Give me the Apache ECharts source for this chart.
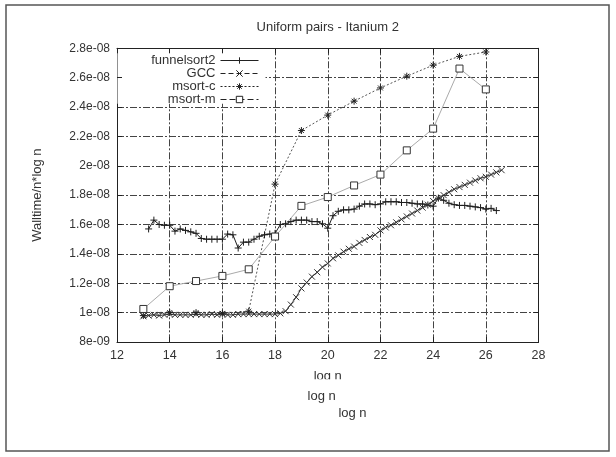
<!DOCTYPE html>
<html>
<head>
<meta charset="utf-8">
<script src="https://cdn.jsdelivr.net/npm/echarts@6/dist/echarts.min.js"></script>
<style>
html, body { margin: 0; padding: 0; background: #fff; }
#chart { width: 616px; height: 457px; }
</style>
</head>
<body>
<div id="chart"></div>
<script>
// values in units of 1e-09 (Walltime/n*log n)
const funnelX = [13.2, 13.4, 13.6, 13.8, 14.0, 14.2, 14.4, 14.6, 14.8, 15.0, 15.2, 15.4, 15.6, 15.8, 16.0, 16.2, 16.4, 16.6, 16.8, 17.0,
    17.2, 17.4, 17.6, 17.8, 18.0, 18.2, 18.4, 18.6, 18.8, 19.0, 19.2, 19.4, 19.6, 19.8, 20.0, 20.2, 20.4, 20.6, 20.8, 21.0,
    21.2, 21.4, 21.6, 21.8, 22.0, 22.2, 22.4, 22.6, 22.8, 23.0, 23.2, 23.4, 23.6, 23.8, 24.0, 24.2, 24.4, 24.6, 24.8, 25.0,
    25.2, 25.4, 25.6, 25.8, 26.0, 26.2, 26.4];
const funnelY = [15.7, 16.3, 16.0, 15.95, 15.95, 15.55, 15.7, 15.6, 15.5, 15.4, 15.05, 15.0, 15.0, 15.0, 15.0, 15.35, 15.3, 14.4, 14.8, 14.8,
    15.0, 15.2, 15.3, 15.35, 15.4, 16.0, 16.05, 16.2, 16.3, 16.3, 16.3, 16.2, 16.2, 16.05, 15.75, 16.6, 16.9, 17.0, 17.0, 17.05,
    17.25, 17.4, 17.4, 17.35, 17.4, 17.55, 17.55, 17.55, 17.5, 17.5, 17.45, 17.4, 17.4, 17.33, 17.25, 17.8, 17.65, 17.45, 17.35, 17.3,
    17.3, 17.25, 17.2, 17.15, 17.05, 17.1, 16.95];

const gccX = [13.0, 13.2, 13.4, 13.6, 13.8, 14.0, 14.2, 14.4, 14.6, 14.8, 15.0, 15.2, 15.4, 15.6, 15.8, 16.0, 16.2, 16.4, 16.6, 16.8,
    17.0, 17.2, 17.4, 17.6, 17.8, 18.0, 18.2, 18.4, 18.6, 18.8, 19.0, 19.2, 19.4, 19.6, 19.8, 20.0, 20.2, 20.4, 20.6, 20.8,
    21.0, 21.2, 21.4, 21.6, 21.8, 22.0, 22.2, 22.4, 22.6, 22.8, 23.0, 23.2, 23.4, 23.6, 23.8, 24.0, 24.2, 24.4, 24.6, 24.8,
    25.0, 25.2, 25.4, 25.6, 25.8, 26.0, 26.2, 26.4, 26.6];
const gccY = [9.75, 9.8, 9.85, 9.8, 9.85, 9.9, 9.85, 9.85, 9.85, 9.85, 9.9, 9.85, 9.85, 9.9, 9.85, 9.9, 9.85, 9.85, 9.9, 9.9,
    9.9, 9.9, 9.9, 9.9, 9.9, 9.9, 9.95, 10.1, 10.55, 11.05, 11.65, 12.05, 12.45, 12.75, 13.1, 13.35, 13.7, 13.9, 14.15, 14.35,
    14.5, 14.75, 14.95, 15.15, 15.3, 15.6, 15.8, 15.95, 16.15, 16.35, 16.55, 16.75, 16.95, 17.15, 17.35, 17.6, 17.8, 18.0, 18.2, 18.4,
    18.55, 18.7, 18.85, 19.0, 19.15, 19.25, 19.4, 19.55, 19.7];

const msortX = [13, 14, 15, 16, 17, 18, 19, 20, 21, 22, 23, 24, 25, 26];
const msortCY = [9.8, 10.0, 10.0, 9.95, 10.1, 18.75, 22.4, 23.45, 24.4, 25.3, 26.1, 26.85, 27.45, 27.75];
const msortMY = [10.25, 11.8, 12.15, 12.5, 12.95, 15.18, 17.27, 17.87, 18.66, 19.4, 21.05, 22.53, 26.62, 25.2];

const yTickLabels = ['8e-09', '1e-08', '1.2e-08', '1.4e-08', '1.6e-08', '1.8e-08', '2e-08', '2.2e-08', '2.4e-08', '2.6e-08', '2.8e-08'];
const legendRows = ['funnelsort2', 'GCC', 'msort-c', 'msort-m'];

const font = "'Liberation Sans', Arial, sans-serif";
const PLUS = 'path://M5,0L5,10M0,5L10,5';
const CROSS = 'path://M0,0L10,10M10,0L0,10';
const STAR = 'path://M5,0L5,10M0,5L10,5M1.5,1.5L8.5,8.5M8.5,1.5L1.5,8.5';
const BOX = 'path://M0,0L10,0L10,10L0,10Z';

const zip = (xs, ys) => xs.map((x, i) => [x, ys[i]]);
const gridDash = { color: '#444', width: 1, type: [7, 2, 2, 2] };

const keyMark = { color: 'transparent', borderColor: '#222', borderWidth: 1 };
const legendStyle = {
    'funnelsort2': { lineStyle: { color: '#222', width: 1, type: 'solid' }, itemStyle: keyMark },
    'GCC': { lineStyle: { color: '#222', width: 1, type: [5, 3] }, itemStyle: keyMark },
    'msort-c': { lineStyle: { color: '#222', width: 1, type: [2, 2] }, itemStyle: keyMark },
    'msort-m': { lineStyle: { color: '#222', width: 1, type: [6, 3] }, itemStyle: { color: '#fff', borderColor: '#222', borderWidth: 1 } }
};
const legendTops = [54, 67, 80, 93];

const chart = echarts.init(document.getElementById('chart'));
chart.setOption({
    animation: false,
    backgroundColor: '#fff',
    textStyle: { fontFamily: font, color: '#333' },
    title: {
        text: 'Uniform pairs - Itanium 2',
        left: 327.7,
        top: 21,
        padding: 0,
        textAlign: 'center',
        textStyle: { fontFamily: font, fontSize: 13, fontWeight: 'normal', color: '#333' }
    },
    grid: { left: 117, right: 77.5, top: 48.3, bottom: 115, containLabel: false },
    legend: legendRows.map((name, i) => ({
        data: [{ name, ...legendStyle[name] }],
        align: 'right',
        right: 357,
        top: legendTops[i],
        padding: 0,
        itemWidth: 38,
        itemHeight: 8,
        selectedMode: false,
        textStyle: { fontFamily: font, fontSize: 13, color: '#333' }
    })),
    xAxis: [
        {
            type: 'value', position: 'bottom', min: 12, max: 28, interval: 2, z: 0,
            name: 'log n', nameLocation: 'middle', nameGap: 28,
            nameTextStyle: { fontFamily: font, fontSize: 13, color: '#333' },
            axisLine: { onZero: false, lineStyle: { color: '#222', width: 1 } },
            axisTick: { inside: true, length: 5, lineStyle: { color: '#222' } },
            axisLabel: { fontFamily: font, fontSize: 12.5, color: '#333', margin: 7 },
            splitLine: { show: true, lineStyle: gridDash }
        },
        {
            type: 'value', position: 'top', min: 12, max: 28, interval: 2, z: 3,
            axisLine: { onZero: false, lineStyle: { color: '#222', width: 1 } },
            axisTick: { inside: true, length: 5, lineStyle: { color: '#222' } },
            axisLabel: { show: false },
            splitLine: { show: false }
        }
    ],
    yAxis: [
        {
            type: 'value', position: 'left', min: 8, max: 28, interval: 2, z: 0,
            name: 'Walltime/n*log n', nameLocation: 'middle', nameGap: 73,
            nameTextStyle: { fontFamily: font, fontSize: 13, color: '#333' },
            axisLine: { onZero: false, lineStyle: { color: '#222', width: 1 } },
            axisTick: { show: false },
            axisLabel: {
                fontFamily: font, fontSize: 12, color: '#333', margin: 7,
                formatter: (v, i) => yTickLabels[i]
            },
            splitLine: { show: true, lineStyle: gridDash }
        },
        {
            type: 'value', position: 'right', min: 8, max: 28, interval: 2, z: 3,
            axisLine: { onZero: false, lineStyle: { color: '#222', width: 1 } },
            axisTick: { inside: true, length: 5, lineStyle: { color: '#222' } },
            axisLabel: { show: false },
            splitLine: { show: false }
        },
        {
            type: 'value', position: 'left', min: 8, max: 28, interval: 2, z: 3,
            axisLine: { show: false, onZero: false },
            axisTick: { inside: true, length: 5, lineStyle: { color: '#222' } },
            axisLabel: { show: false },
            splitLine: { show: false }
        }
    ],
    graphic: [
        // page frame
        { type: 'rect', shape: { x: 6, y: 5, width: 603, height: 446 }, style: { fill: 'none', stroke: '#555', lineWidth: 1.5 }, z: 10 },
        // key box hides grid lines
        { type: 'rect', shape: { x: 117.5, y: 48.8, width: 148, height: 55 }, style: { fill: '#fff' }, z: 1 },
        // x label cut off at the bottom
        { type: 'rect', shape: { x: 300, y: 379.3, width: 60, height: 8 }, style: { fill: '#fff' }, z: 10 },
        { type: 'text', x: 321.7, y: 396.5, style: { text: 'log n', font: '13px ' + font, fill: '#333', textAlign: 'center', textVerticalAlign: 'middle' }, z: 10 },
        { type: 'text', x: 352.5, y: 413.5, style: { text: 'log n', font: '13px ' + font, fill: '#333', textAlign: 'center', textVerticalAlign: 'middle' }, z: 10 }
    ],
    series: [
        {
            name: 'funnelsort2', data: zip(funnelX, funnelY), symbol: PLUS, symbolSize: 7,
            lineStyle: { color: '#1e1e1e', width: 1 },
            itemStyle: { color: '#1e1e1e', borderColor: '#1e1e1e', borderWidth: 1 }
        },
        {
            name: 'GCC', data: zip(gccX, gccY), symbol: CROSS, symbolSize: 6,
            lineStyle: { color: '#333', width: 1 },
            itemStyle: { color: '#333', borderColor: '#333', borderWidth: 1 }
        },
        {
            name: 'msort-c', data: zip(msortX, msortCY), symbol: STAR, symbolSize: 7,
            lineStyle: { color: '#555', width: 1, type: [2, 2] },
            itemStyle: { color: '#222', borderColor: '#222', borderWidth: 1 }
        },
        {
            name: 'msort-m', data: zip(msortX, msortMY), symbol: BOX, symbolSize: 7,
            lineStyle: { color: '#aaa', width: 1 },
            itemStyle: { color: '#fff', borderColor: '#333', borderWidth: 1 }
        }
    ].map(s => ({
        ...s,
        type: 'line',
        xAxisIndex: 0,
        yAxisIndex: 0,
        z: 2,
        emphasis: { disabled: true }
    }))
});
</script>
</body>
</html>
